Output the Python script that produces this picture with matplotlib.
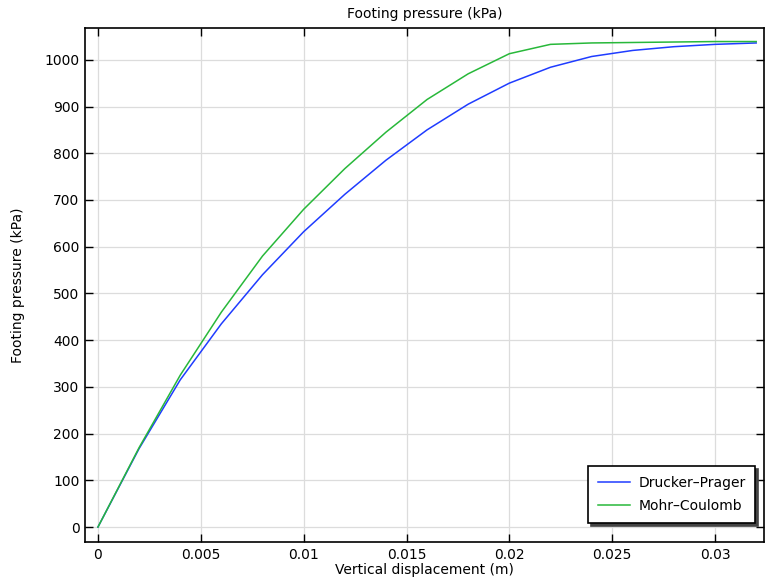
import matplotlib
matplotlib.use('Agg')
import matplotlib.pyplot as plt

# displacement (m) and footing pressure (kPa)
disp = [0, 0.002, 0.004, 0.006, 0.008, 0.01, 0.012, 0.014, 0.016,
        0.018, 0.02, 0.022, 0.024, 0.026, 0.028, 0.03, 0.032]
drucker_prager = [0, 168, 315, 435, 540, 632, 712, 785, 850,
                  905, 950, 984, 1007, 1020, 1028, 1033, 1036]
mohr_coulomb = [0, 170, 325, 460, 580, 680, 767, 845, 915,
                970, 1013, 1033, 1036, 1037, 1038, 1039, 1039]

x_ticks = [0, 0.005, 0.01, 0.015, 0.02, 0.025, 0.03]
x_tick_labels = ['0', '0.005', '0.01', '0.015', '0.02', '0.025', '0.03']
y_ticks = [0, 100, 200, 300, 400, 500, 600, 700, 800, 900, 1000]

fig = plt.figure(figsize=(7.65, 5.85), dpi=100)
ax = fig.add_axes([85 / 765, 43 / 585, 679 / 765, 514 / 585])

ax.plot(disp, drucker_prager, color='#1f3cff', lw=1.1, label='Drucker\u2013Prager')
ax.plot(disp, mohr_coulomb, color='#28b83a', lw=1.1, label='Mohr\u2013Coulomb')

ax.set_xlim(-0.00063, 0.03238)
ax.set_ylim(-32, 1068)
ax.set_xticks(x_ticks)
ax.set_xticklabels(x_tick_labels)
ax.set_yticks(y_ticks)
ax.grid(True, color='#dcdcdc', lw=0.9)
ax.set_axisbelow(True)

ax.tick_params(direction='in', top=True, right=True, length=6, width=1,
               labelsize=10, pad=4)
for s in ax.spines.values():
    s.set_linewidth(1.2)

ax.set_title('Footing pressure (kPa)', fontsize=10, pad=7)
ax.set_xlabel('Vertical displacement (m)', fontsize=10, labelpad=1)
ax.set_ylabel('Footing pressure (kPa)', fontsize=10, labelpad=14)

leg = ax.legend(loc='lower right', bbox_to_anchor=(0.987, 0.037), borderaxespad=0,
                fancybox=False, shadow={'color': '#444444', 'alpha': 1.0},
                framealpha=1, fontsize=10, handlelength=2.3, borderpad=0.7,
                labelspacing=0.7, handletextpad=0.6)
leg.get_frame().set_edgecolor('black')
leg.get_frame().set_linewidth(1.2)

fig.savefig('out.png', dpi=100)
